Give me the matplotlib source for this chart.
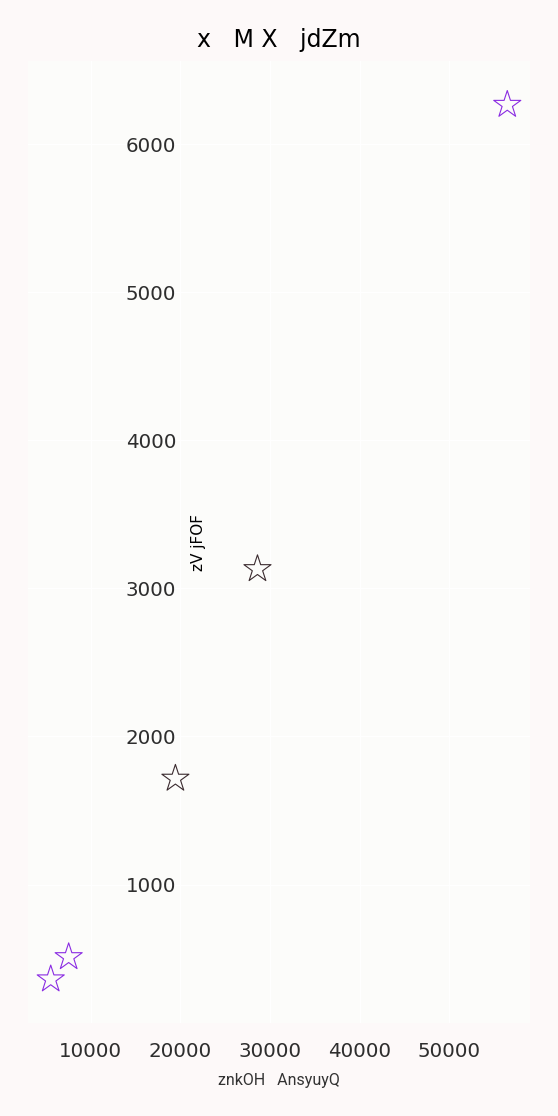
import numpy as np
import matplotlib.pyplot as plt

# data
x_purple = [5550, 7550, 56450]
y_purple = [360, 510, 6265]
x_dark = [28600, 19450]
y_dark = [3130, 1715]

title = 'x   M X   jdZm'
xlabel = 'znkOH   AnsyuyQ'
ylabel = 'zV jFOF'
xticks = [10000, 20000, 30000, 40000, 50000]
yticks = [1000, 2000, 3000, 4000, 5000, 6000]

fig = plt.figure(figsize=(5.58, 11.16), dpi=100, facecolor='#fdf9f9')
ax = fig.add_axes([0.05, 0.0833, 0.9, 0.862])
ax.set_facecolor('#fcfcfa')

ax.scatter(x_purple, y_purple, marker='*', s=420, facecolors='none',
           edgecolors='#8a2be2', linewidths=0.8, zorder=3)
ax.scatter(x_dark, y_dark, marker='*', s=420, facecolors='none',
           edgecolors='#3a2a2e', linewidths=0.8, zorder=3)

ax.set_xticks(xticks)
ax.set_yticks(yticks)
ax.grid(True, color='white', linewidth=1.0)
ax.set_axisbelow(True)
for s in ax.spines.values():
    s.set_visible(False)

# y axis sits inside the plot at x = 20000
ax.spines['left'].set_position(('data', 20000))
ax.tick_params(axis='both', length=0, labelsize=14.3, labelcolor='#2e2e2e')
ax.tick_params(axis='x', pad=14)
ax.tick_params(axis='y', pad=3)

ax.set_title(title, fontsize=17, pad=10)
ax.set_xlabel(xlabel, fontsize=11.5, color='#333333', family='Roboto', labelpad=8)
ax.set_ylabel(ylabel, fontsize=11)
ax.yaxis.set_label_coords(0.355, 0.5)

fig.savefig('out.png', dpi=100, facecolor=fig.get_facecolor())
